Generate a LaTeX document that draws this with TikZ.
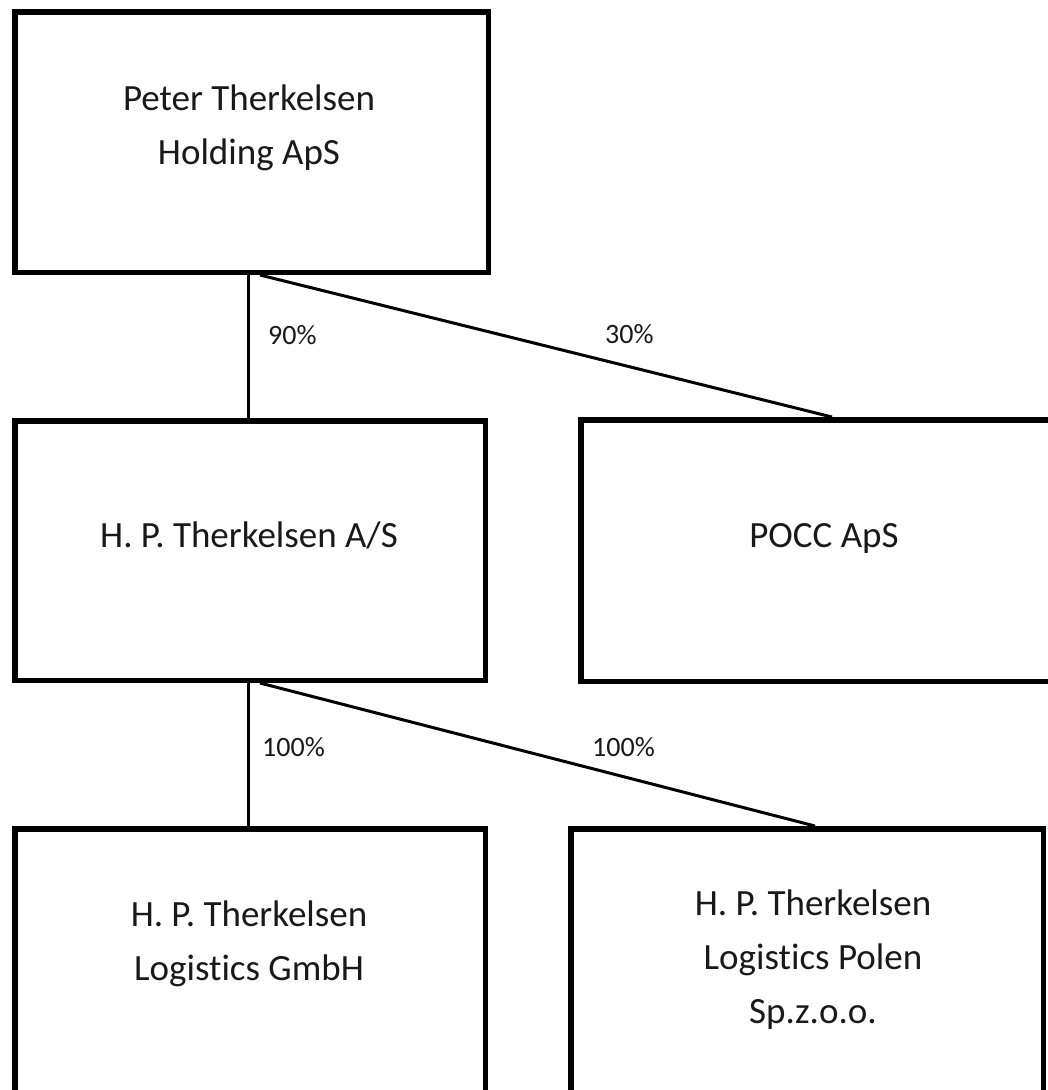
\documentclass[tikz,border=0pt]{standalone}
\usepackage{fontspec}
\setmainfont[Ligatures=NoCommon]{Carlito}
\begin{document}
\begin{tikzpicture}[x=1pt,y=-1pt,
  box/.style={draw=black, line width=5.5pt, rectangle, inner sep=0pt, fill=none},
  conn/.style={draw=black, line width=3pt},
  boxtext/.style={inner sep=0pt, align=center, font=\fontsize{37}{54}\selectfont, text=black!90},
  pct/.style={inner sep=0pt, anchor=west, font=\fontsize{28}{32}\selectfont, text=black!90}]
\useasboundingbox (0,0) rectangle (1048,1090);
\clip (0,0) rectangle (1048,1090);
\fill[white] (0,0) rectangle (1048,1090);

% boxes
\node[box, minimum width=473.5pt, minimum height=260.5pt] (top) at (251.5,142) {};
\node[box, minimum width=470.5pt, minimum height=259.5pt] (mid) at (250,550.5) {};
\node[box, minimum width=472.5pt, minimum height=261.5pt] (pocc) at (817,550.5) {};
\node[box, minimum width=470.5pt, minimum height=268.5pt] (bl) at (250,963) {};
\node[box, minimum width=472.5pt, minimum height=268.5pt] (br) at (807,963) {};

% texts
\node[boxtext] (ttop) at (249,128) {Peter Therkelsen\\Holding ApS};
\node[boxtext, anchor=base] (tmid) at (249,547) {H. P. Therkelsen A/S};
\node[boxtext, anchor=base] (tpocc) at (824,547) {POCC ApS};
\node[boxtext] (tbl) at (249,944) {H. P. Therkelsen\\Logistics GmbH};
\node[boxtext] (tbr) at (813,960) {H. P. Therkelsen\\Logistics Polen\\Sp.z.o.o.};

% connectors
\draw[conn] ([xshift=-3.5pt]top.south) -- ([xshift=-2pt]mid.north);
\draw[conn] ([xshift=8.5pt]top.south) -- ([xshift=15pt]pocc.north);
\draw[conn] ([xshift=-2pt]mid.south) -- ([xshift=-2pt]bl.north);
\draw[conn] ([xshift=10pt]mid.south) -- ([xshift=8pt]br.north);

% percentages
\node[pct] (p90) at (268,335) {90\%};
\node[pct] (p30) at (605,334) {30\%};
\node[pct] (p100a) at (262,747) {100\%};
\node[pct] (p100b) at (592,747) {100\%};
\end{tikzpicture}
\end{document}
